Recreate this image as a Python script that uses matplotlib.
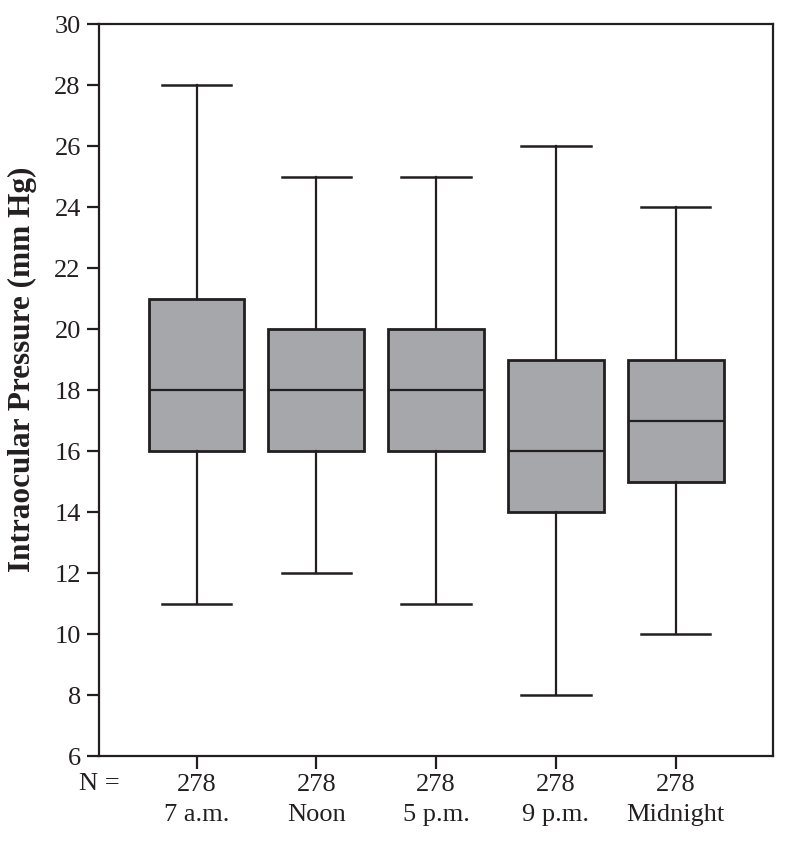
import matplotlib
matplotlib.use("Agg")
import matplotlib.pyplot as plt

plt.rcParams["font.family"] = ["Liberation Serif", "DejaVu Serif"]

# data
times = ["7 a.m.", "Noon", "5 p.m.", "9 p.m.", "Midnight"]
n_counts = [278, 278, 278, 278, 278]
whisker_low = [11, 12, 11, 8, 10]
q1 = [16, 16, 16, 14, 15]
medians = [18, 18, 18, 16, 17]
q3 = [21, 20, 20, 19, 19]
whisker_high = [28, 25, 25, 26, 24]

line_col = "#231f20"
box_col = "#a6a7aa"

stats = []
for i in range(len(times)):
    stats.append({
        "whislo": whisker_low[i], "q1": q1[i], "med": medians[i],
        "q3": q3[i], "whishi": whisker_high[i], "fliers": [],
    })

fig = plt.figure(figsize=(7.85, 8.41), dpi=100)
ax = fig.add_axes([0.126, 0.101, 0.859, 0.870])

positions = list(range(1, len(times) + 1))
ax.bxp(
    stats, positions=positions, widths=0.8, capwidths=0.58,
    patch_artist=True, showfliers=False,
    boxprops=dict(facecolor=box_col, edgecolor=line_col, linewidth=2.0),
    medianprops=dict(color=line_col, linewidth=1.6),
    whiskerprops=dict(color=line_col, linewidth=1.6),
    capprops=dict(color=line_col, linewidth=1.8),
)

ax.set_xlim(0.185, 5.815)
ax.set_ylim(6, 30)
ax.set_yticks(range(6, 31, 2))
ax.set_xticks(positions)
ax.set_xticklabels([f"{n}\n{t}" for n, t in zip(n_counts, times)], linespacing=1.45)

for s in ax.spines.values():
    s.set_linewidth(1.6)
    s.set_color(line_col)
ax.tick_params(axis="both", direction="out", length=9, width=1.6, color=line_col,
               labelsize=19, labelcolor=line_col)
ax.tick_params(axis="y", pad=4)
ax.tick_params(axis="x", pad=4)

ax.set_ylabel("Intraocular Pressure (mm Hg)", fontsize=22.5, fontweight="bold",
              color=line_col)
ax.yaxis.set_label_coords(-0.092, 0.528)

ax.annotate("N =", xy=(0.0, 0.0), xycoords="axes fraction",
            xytext=(0, -12), textcoords="offset points", ha="center", va="top",
            fontsize=19, color=line_col)

fig.savefig("out.png", dpi=100)
